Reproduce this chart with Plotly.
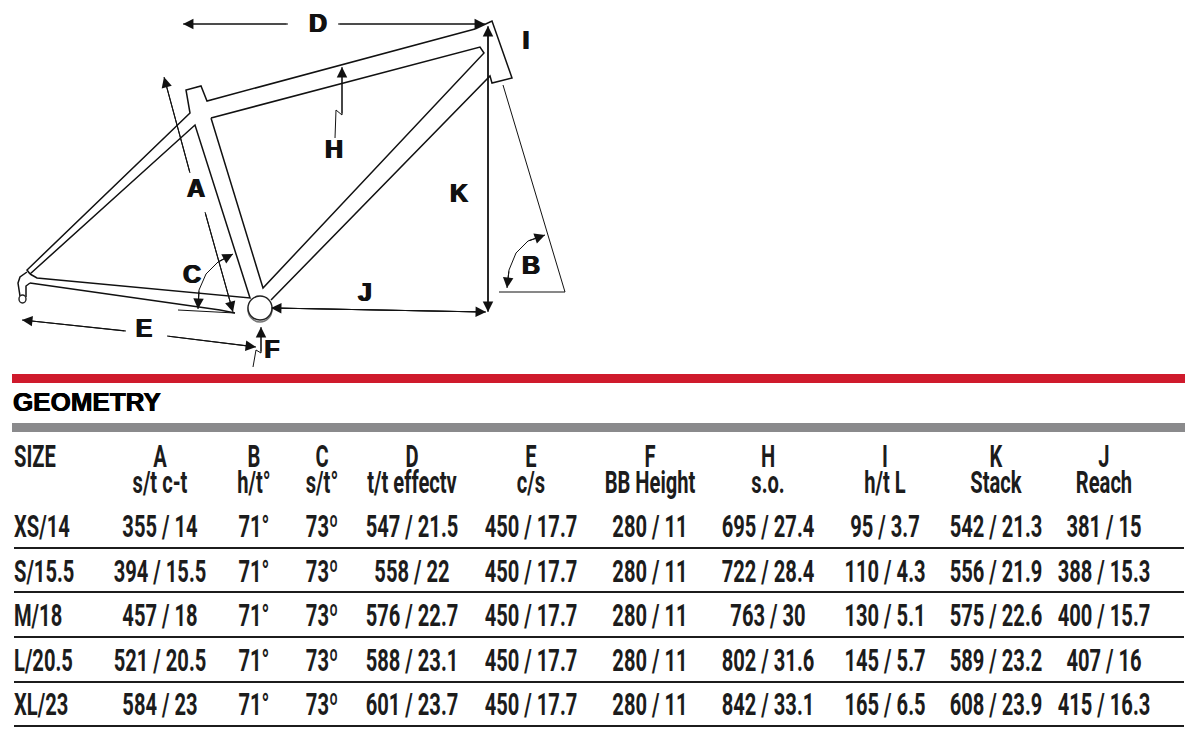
import plotly.graph_objects as go

# table contents
sizes = ["XS/14", "S/15.5", "M/18", "L/20.5", "XL/23"]
col_letters = ["A", "B", "C", "D", "E", "F", "H", "I", "K", "J"]
col_names = ["s/t c-t", "h/t°", "s/t°", "t/t effectv", "c/s", "BB Height", "s.o.", "h/t L", "Stack", "Reach"]
col_a = ["355 / 14", "394 / 15.5", "457 / 18", "521 / 20.5", "584 / 23"]
col_b = ["71°", "71°", "71°", "71°", "71°"]
col_c = ["73º", "73º", "73º", "73º", "73º"]
col_d = ["547 / 21.5", "558 / 22", "576 / 22.7", "588 / 23.1", "601 / 23.7"]
col_e = ["450 / 17.7", "450 / 17.7", "450 / 17.7", "450 / 17.7", "450 / 17.7"]
col_f = ["280 / 11", "280 / 11", "280 / 11", "280 / 11", "280 / 11"]
col_h = ["695 / 27.4", "722 / 28.4", "763 / 30", "802 / 31.6", "842 / 33.1"]
col_i = ["95 / 3.7", "110 / 4.3", "130 / 5.1", "145 / 5.7", "165 / 6.5"]
col_k = ["542 / 21.3", "556 / 21.9", "575 / 22.6", "589 / 23.2", "608 / 23.9"]
col_j = ["381 / 15", "388 / 15.3", "400 / 15.7", "407 / 16", "415 / 16.3"]

# frame outline in image pixels
frame_outer_x = [30, 27, 190, 186, 201, 207, 475]
frame_outer_y = [274, 270, 113, 90, 86, 101, 29]
head_x = [475, 492, 512, 492, 490, 271]
head_y = [29, 21, 78, 83, 76, 300]
main_inner_x = [211, 480, 484, 263, 211]
main_inner_y = [118, 47, 53, 288, 118]
rear_inner_x = [30, 195, 250, 37, 30]
rear_inner_y = [274, 125, 298, 278, 274]
stay_low_x = [30, 220, 235]
stay_low_y = [283, 310, 313]
dropout_back_x = [27, 20, 18, 20]
dropout_back_y = [272, 277, 283, 296]
dropout_front_x = [26, 26, 30]
dropout_front_y = [297, 286, 283]

# dimension lines: (x list, y list, arrow at start, arrow at end)
dims = [
    ([190, 164], [173, 77], False, True),
    ([205, 233], [212, 312], False, True),
    ([178, 235], [310, 313], False, False),
    ([198, 199, 206, 218, 233], [309, 290, 274, 262, 254], True, True),
    ([288, 183], [24, 24], False, True),
    ([338, 485], [24, 24], False, True),
    ([335, 336, 342, 342], [138, 110, 115, 67], False, True),
    ([488, 488], [312, 26], True, True),
    ([271, 486], [308, 312], True, True),
    ([503, 565], [85, 292], False, False),
    ([499, 565], [292, 292], False, False),
    ([507, 509, 516, 528, 545], [288, 270, 253, 241, 235], True, True),
    ([126, 22], [331, 320], False, True),
    ([167, 256], [336, 347], False, True),
    ([253, 256, 261, 261], [367, 350, 353, 327], False, True),
]

diagram_labels = ["D", "I", "H", "A", "K", "C", "B", "J", "E", "F"]
label_x = [318, 526, 334, 196, 459, 192, 531, 365, 144, 272]
label_y = [26, 43, 152, 191, 196, 277, 268, 295, 331, 352]

# table layout
col_x = [160, 254, 322, 412, 531, 650, 768, 885, 996, 1104]
row_y = [529, 574, 618, 663, 707]
rule_y = [548, 592, 637, 682, 726]

COND = "Roboto"
BLACK = "Liberation Sans"
INK = "#1c1c1c"

fig = go.Figure()


def add_line(xs, ys, width=1.5):
    fig.add_trace(go.Scatter(x=xs, y=ys, mode="lines", hoverinfo="skip",
                             line=dict(color="#111111", width=width)))


def add_arrow(x0, y0, x1, y1):
    fig.add_annotation(x=x1, y=y1, ax=x0, ay=y0, xref="x", yref="y", axref="x", ayref="y",
                       text="", showarrow=True, arrowhead=2, arrowsize=1.9, arrowwidth=1.1,
                       arrowcolor="#111111")


def add_text(xs, ys, labels, size, pos="middle center", family=COND, weight=700, color=INK, shadow="none"):
    fig.add_trace(go.Scatter(x=xs, y=ys, text=labels, mode="text", textposition=pos, hoverinfo="skip",
                             cliponaxis=False,
                             textfont=dict(family=family, size=size, color=color, weight=weight, shadow=shadow)))


for xs, ys in [(frame_outer_x, frame_outer_y), (head_x, head_y), (main_inner_x, main_inner_y),
               (rear_inner_x, rear_inner_y), (stay_low_x, stay_low_y),
               (dropout_back_x, dropout_back_y), (dropout_front_x, dropout_front_y)]:
    add_line(xs, ys, 1.5)

# bottom bracket and dropout eye
fig.add_shape(type="circle", x0=248, x1=272, y0=297, y1=322, line=dict(color="#777777", width=1.5),
              fillcolor="white")
fig.add_shape(type="circle", x0=248, x1=272, y0=296, y1=320, line=dict(color="#222222", width=1.4),
              fillcolor="white")
fig.add_shape(type="circle", x0=19, x1=26, y0=295, y1=303, line=dict(color="#222222", width=1.4),
              fillcolor="white")

for xs, ys, start, end in dims:
    add_line(xs, ys, 1.0)
    if start:
        add_arrow(xs[1], ys[1], xs[0], ys[0])
    if end:
        add_arrow(xs[-2], ys[-2], xs[-1], ys[-1])

heavy = "0.7px 0 0 #111111, -0.7px 0 0 #111111"
add_text(label_x, label_y, diagram_labels, 25, family=BLACK, weight="bold", color="#111111", shadow=heavy)

# bars and rules
fig.add_shape(type="rect", x0=12, x1=1185, y0=374, y1=383, fillcolor="#cf1a2c", line_width=0)
fig.add_shape(type="rect", x0=12, x1=1185, y0=423, y1=432, fillcolor="#8a8a8c", line_width=0)
for y in rule_y:
    fig.add_shape(type="line", x0=14, x1=1184, y0=y, y1=y, line=dict(color="#1c1c1c", width=2))

add_text([13], [404], ["GEOMETRY"], 26, pos="middle right", family=BLACK, weight="bold", color="#000000",
         shadow="0.4px 0 0 #000000, -0.4px 0 0 #000000")

# table text
add_text([14], [459], ["SIZE"], 31, pos="middle right")
add_text(col_x, [459] * len(col_x), col_letters, 31)
add_text(col_x, [485] * len(col_x), col_names, 31)
add_text([14] * len(sizes), row_y, sizes, 31, pos="middle right")
for x, col in zip(col_x, [col_a, col_b, col_c, col_d, col_e, col_f, col_h, col_i, col_k, col_j]):
    add_text([x] * len(col), row_y, col, 31)

fig.update_layout(
    width=1200, height=740,
    margin=dict(l=0, r=0, t=0, b=0),
    paper_bgcolor="white", plot_bgcolor="white",
    showlegend=False,
    xaxis=dict(range=[0, 1200], visible=False, fixedrange=True),
    yaxis=dict(range=[740, 0], visible=False, fixedrange=True),
)

# the table face is a condensed DIN, none installed, so squeeze Roboto sideways
squeeze = """
document.body.style.margin = '0';
document.querySelectorAll('.textpoint text').forEach(function (t) {
  if (t.style.fontFamily.indexOf('Roboto') < 0) return;
  var x = +t.getAttribute('x') || 0;
  t.setAttribute('transform', 'translate(' + x + ',0) scale(0.65,1) translate(' + (-x) + ',0)');
});
"""
fig.write_html("out.html", config={"displayModeBar": False}, post_script=squeeze)
